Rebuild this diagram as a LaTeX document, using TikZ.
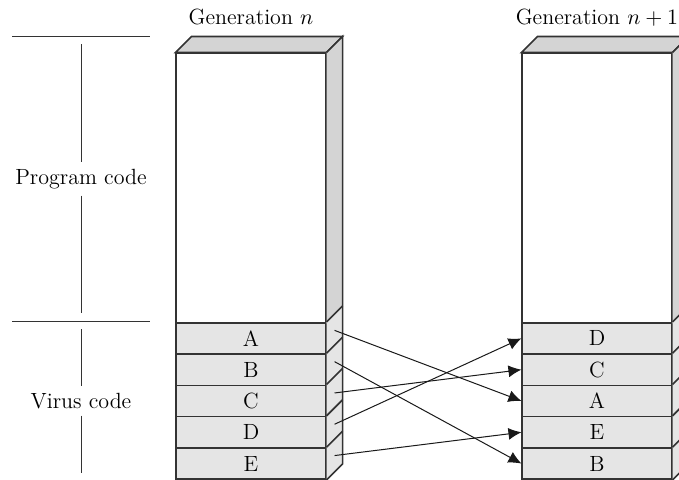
\documentclass[tikz,border=0pt]{standalone}
\usetikzlibrary{positioning, arrows.meta}
\definecolor{facegray}{gray}{0.83}
\definecolor{bandgray}{gray}{0.9}
\definecolor{edgegray}{gray}{0.2}
\tikzset{
>={Latex[length=6.5pt,width=6pt]}, % solid arrow heads
}
\tikzstyle{front} = [rectangle, draw=edgegray, fill=white, line width=0.8pt,
    minimum width=74.75pt, minimum height=134.7pt, inner sep=0pt]
\tikzstyle{band} = [rectangle, draw=edgegray, fill=bandgray, line width=0.8pt,
    minimum width=74.75pt, minimum height=15.65pt, inner sep=0pt]
\tikzstyle{side} = [draw=edgegray, line width=0.8pt]
\tikzstyle{scaleline} = [draw=black!80, line width=0.5pt]
\tikzstyle{moveline} = [draw=black!90, ->, line width=0.5pt]
\begin{document}
\begin{tikzpicture}[x=0.5pt, y=-0.5pt, node distance=15.65pt, font=\fontsize{11}{13}\selectfont]
\useasboundingbox (0,0) rectangle (679,479);
\clip (0,0) rectangle (679,479);

% left scale
\node (pcode) at (81,184) [anchor=base] {Program code};
\node (vcode) at (81,408) [anchor=base] {Virus code};
\coordinate (ptop) at (81,44);
\coordinate (pbot) at (81,313);
\coordinate (vtop) at (81,329);
\coordinate (vbot) at (81,473);
\draw [scaleline] (12,36) -- (150,36);
\draw [scaleline] (12,321.5) -- (150,321.5);
\draw [scaleline] (ptop) -- (pcode);
\draw [scaleline] (pcode) -- (pbot);
\draw [scaleline] (vtop) -- (vcode);
\draw [scaleline] (vcode) -- (vbot);

% generation n
\node (genl) at (251,24) [anchor=base] {Generation $n$};
\node [front] (pl) at (251,188) {};
\node [band] (lA) at (251,338.35) {A};
\node [band, below of=lA] (lB) {B};
\node [band, below of=lB] (lC) {C};
\node [band, below of=lC] (lD) {D};
\node [band, below of=lD] (lE) {E};

% generation n+1
\node (genr) at (597,24) [anchor=base] {Generation $n+1$};
\node [front] (pr) at (597,188) {};
\node [band] (rD) at (597,338.35) {D};
\node [band, below of=rD] (rC) {C};
\node [band, below of=rC] (rA) {A};
\node [band, below of=rA] (rE) {E};
\node [band, below of=rE] (rB) {B};

% top and side faces
\foreach \c/\t/\b in {l/lA/lE, r/rD/rB} {
  \filldraw [side, fill=facegray] (p\c.north west) -- ++(16,-16)
    -- ([shift={(16,-16)}]p\c.north east) -- (p\c.north east) -- cycle;
  \fill [facegray] (p\c.north east) -- ++(16,-16)
    -- ([shift={(16,-16)}]p\c.south east) -- (p\c.south east) -- cycle;
  \fill [bandgray] (\t.north east) -- ++(16,-16)
    -- ([shift={(16,-16)}]\b.south east) -- (\b.south east) -- cycle;
  \draw [side] (p\c.north east) -- ++(16,-16)
    -- ([shift={(16,-16)}]\b.south east) -- (\b.south east);
}
\foreach \n in {lA,lB,lC,lD,lE,rD,rC,rA,rE,rB}
  \draw [side] (\n.north east) -- ++(16,-16);

% moved blocks
\foreach \n in {A,B,C,D,E} {
  \coordinate (s\n) at ([shift={(8,-8)}]l\n.east);
  \draw [moveline] (s\n) -- (r\n.west);
}

\end{tikzpicture}
\end{document}
